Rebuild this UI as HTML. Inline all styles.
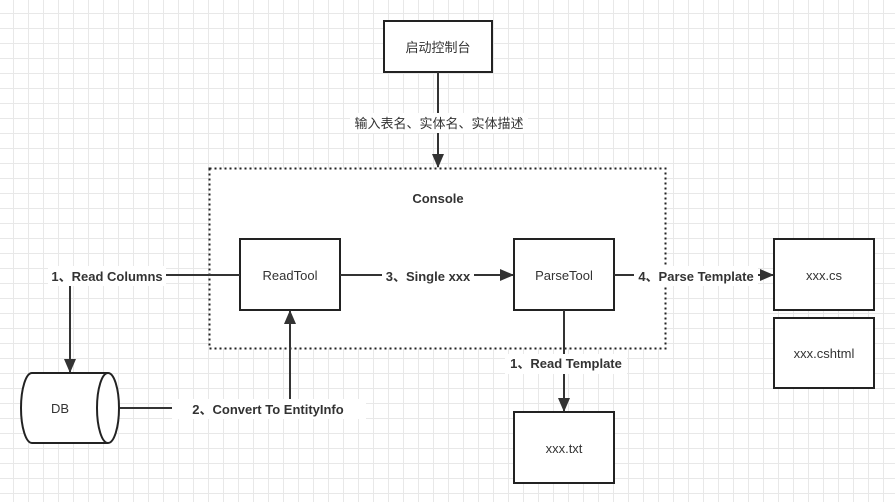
<!DOCTYPE html>
<html><head><meta charset="utf-8"><style>
body{margin:0;width:895px;height:502px;overflow:hidden;background:#fff;
background-image:linear-gradient(#e8e8e8 1px,transparent 1px),linear-gradient(90deg,#e8e8e8 1px,transparent 1px);background-size:15px 15px;background-position:-2px -2px;}
svg{position:absolute;left:0;top:0}
text{font-family:"Liberation Sans","Noto Sans CJK SC",sans-serif;font-size:13px;fill:#333}
.b{font-weight:bold}
</style></head><body>
<svg width="895" height="502" viewBox="0 0 895 502">
<defs><marker id="a" markerWidth="14" markerHeight="12" refX="13" refY="6" orient="auto" markerUnits="userSpaceOnUse"><path d="M0,0 L14,6 L0,12 Z" fill="#333"/></marker></defs>
<rect x="209.5" y="168.5" width="456" height="180" fill="#fff" stroke="#222" stroke-width="2" stroke-dasharray="2,3"/>
<g fill="#fff" stroke="#222" stroke-width="2">
<rect x="384" y="21" width="108" height="51"/>
<rect x="240" y="239" width="100" height="71"/>
<rect x="514" y="239" width="100" height="71"/>
<rect x="774" y="239" width="100" height="71"/>
<rect x="774" y="318" width="100" height="70"/>
<rect x="514" y="412" width="100" height="71"/>
<path d="M32,373 L108,373 A11,35 0 0 1 108,443 L32,443 A11,35 0 0 1 32,373 Z"/>
<path d="M108,373 A11,35 0 0 0 108,443"/>
</g>
<g stroke="#333" stroke-width="2" fill="none">
<path d="M438,72 V167" marker-end="url(#a)"/>
<path d="M240,275 H70 V372" marker-end="url(#a)"/>
<path d="M120,408 H290 V311" marker-end="url(#a)"/>
<path d="M340,275 H513" marker-end="url(#a)"/>
<path d="M614,275 H773" marker-end="url(#a)"/>
<path d="M564,310 V411" marker-end="url(#a)"/>
</g>
<g fill="#fff">
<rect x="350" y="113" width="178" height="20"/>
<rect x="48" y="266" width="118" height="20"/>
<rect x="172" y="399" width="194" height="20"/>
<rect x="382" y="266" width="92" height="20"/>
<rect x="634" y="266" width="124" height="20"/>
<rect x="505" y="354" width="122" height="20"/>
</g>
<text x="438" y="52" text-anchor="middle">启动控制台</text>
<text x="439" y="128" text-anchor="middle">输入表名、实体名、实体描述</text>
<text x="438" y="203" text-anchor="middle" class="b">Console</text>
<text x="290" y="280" text-anchor="middle">ReadTool</text>
<text x="564" y="280" text-anchor="middle">ParseTool</text>
<text x="824" y="280" text-anchor="middle">xxx.cs</text>
<text x="824" y="358" text-anchor="middle">xxx.cshtml</text>
<text x="564" y="453" text-anchor="middle">xxx.txt</text>
<text x="60" y="413" text-anchor="middle">DB</text>
<text x="107" y="281" text-anchor="middle" class="b">1、Read Columns</text>
<text x="268" y="414" text-anchor="middle" class="b">2、Convert To EntityInfo</text>
<text x="428" y="281" text-anchor="middle" class="b">3、Single xxx</text>
<text x="696" y="281" text-anchor="middle" class="b">4、Parse Template</text>
<text x="566" y="368" text-anchor="middle" class="b">1、Read Template</text>
</svg>
</body></html>
